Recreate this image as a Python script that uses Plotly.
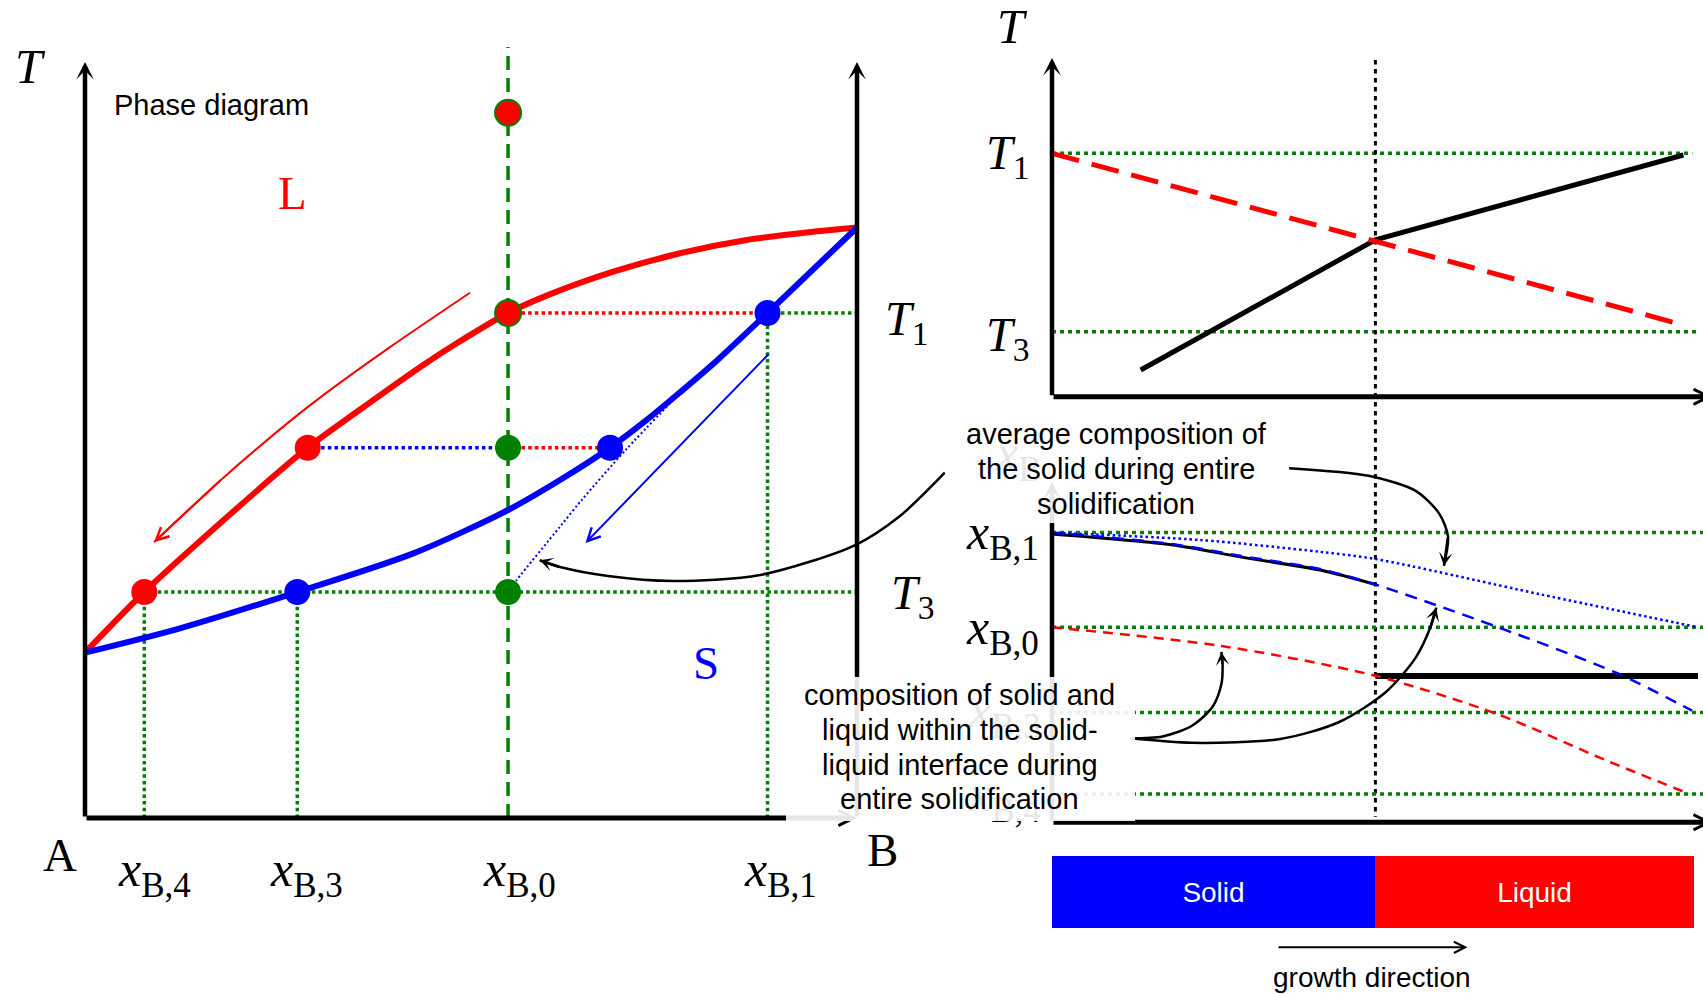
import plotly.graph_objects as go

SERIF = "Liberation Serif"
SANS = "Liberation Sans"
RED, BLUE, GREEN, BLACK = "#ff0000", "#0000ff", "#008000", "#000000"

# ======================= DATA =======================
# ---- Left: phase diagram (x = fraction of B, A = 0 ... B = 1; T = temperature, arbitrary units) ----
liquidus_x = [0.0, 0.0768, 0.1662, 0.2885, 0.3519, 0.4382, 0.4815, 0.548, 0.598, 0.6843, 0.7707, 0.8571, 0.9434, 1.0]
liquidus_T = [0.2187, 0.2989, 0.3820, 0.4898, 0.5370, 0.5992, 0.6279, 0.668, 0.6910, 0.7226, 0.7470, 0.7646, 0.7755, 0.7811]
solidus_x = [0.0, 0.1231, 0.275, 0.4253, 0.548, 0.6153, 0.6801, 0.7276, 0.7707, 0.8139, 0.8841, 1.0]
solidus_T = [0.2187, 0.2509, 0.2989, 0.3500, 0.4074, 0.4471, 0.4898, 0.5265, 0.5630, 0.6008, 0.668, 0.7811]

T0, T1, T2, T3 = 0.9329, 0.668, 0.4898, 0.2989          # temperature levels
xB4, xB3, xB0, xB1 = 0.0768, 0.275, 0.548, 0.8841        # compositions
xL_T2, xS_T2 = 0.2885, 0.6801                            # liquid / solid composition at T2
T_axis_top = 1.0
xB0_line_top = 1.0198

avg_solid_x = [0.548, 0.5592, 0.6153, 0.6434, 0.7004, 0.762]
avg_solid_T = [0.2989, 0.3148, 0.3853, 0.4206, 0.4868, 0.5529]
liq_path_x = [0.4987, 0.3951, 0.3087, 0.2655, 0.1775, 0.0894]
liq_path_T = [0.6948, 0.6229, 0.5594, 0.5250, 0.4485, 0.3649]
sol_path_x = [0.8873, 0.6483]
sol_path_T = [0.6155, 0.3638]
callout_avg_x = [1.1137, 1.0557, 0.9978, 0.8744, 0.7617, 0.6775, 0.6153, 0.5889]
callout_avg_T = [0.4567, 0.3995, 0.3611, 0.3214, 0.3135, 0.3201, 0.332, 0.3409]

# ---- Top right: temperature vs position (solid/liquid interface at position 1) ----
interface_pos = 1.0
pos_end = 1.98
T_axis2_bottom, T_axis2_top = 0.1644, 0.8652
T_liq_pos = [0.0, 1.9524]
T_liq_val = [0.668, 0.3127]
T_act_pos = [0.2743, 1.0, 1.9524]
T_act_val = [0.2196, 0.489, 0.6645]

# ---- Bottom right: composition vs position ----
c_B1, c_B0, c_B3, c_B4 = 0.8513, 0.573, 0.3227, 0.0832
c_axis_top = 1.0
solid_avg_pos = [0.0, 0.3751, 0.5813, 0.8287, 1.0]
solid_avg_c = [0.8472, 0.8148, 0.7800, 0.7413, 0.6988]
solid_int_pos = [0.0, 0.3751, 0.5813, 0.8287, 1.0, 1.3797, 1.7439, 1.979]
solid_int_c = [0.8513, 0.8172, 0.7830, 0.7443, 0.6988, 0.573, 0.4396, 0.3282]
solid_tot_pos = [0.0, 0.4576, 0.8256, 1.0, 1.5058, 1.9975]
solid_tot_c = [0.8513, 0.8296, 0.7952, 0.7737, 0.6708, 0.573]
liquid_int_pos = [0.0, 0.5238, 1.0, 1.3797, 1.7094, 1.9709]
liquid_int_c = [0.573, 0.5181, 0.4305, 0.3171, 0.1837, 0.0832]
liquid_bulk_pos = [1.0, 1.9975]
liquid_bulk_c = [0.43, 0.43]

callout_top_pos = [0.7332, 0.979, 1.1246, 1.1973, 1.2245, 1.2118]
callout_top_c = [1.0406, 1.0182, 0.9739, 0.9071, 0.8401, 0.7535]
callout_a_pos = [0.2418, 0.342, 0.4329, 0.4966, 0.5238, 0.5275, 0.5238]
callout_a_c = [0.2468, 0.2524, 0.2836, 0.3394, 0.4061, 0.4617, 0.5007]
callout_b_pos = [0.2418, 0.4329, 0.7059, 0.8881, 1.0334, 1.1246, 1.1701, 1.1883]
callout_b_c = [0.2468, 0.2336, 0.2448, 0.2947, 0.3838, 0.484, 0.573, 0.6309]

region_names = ["Solid", "Liquid"]
region_start = [0.0, 1.0]
region_len = [1.0, 0.9852]
region_colors = [BLUE, RED]
region_c = -0.205
region_h = 0.2095
growth_pos = [0.6957, 1.2848]
growth_c = -0.3673

# ======================= FIGURE =======================
fig = go.Figure()


def line(x, y, color, width, dash="solid", xa="x", ya="y", shape="linear"):
    ln = dict(color=color, width=width, dash=dash, shape=shape)
    if shape == "spline":
        ln["smoothing"] = 0.8
    fig.add_trace(go.Scatter(x=x, y=y, mode="lines", xaxis=xa, yaxis=ya, hoverinfo="skip", line=ln))


DOT = "3.5px,3.2px"
DOT_R = "4px,4px"

# ---- left panel ----
line([xB0, xB0], [0, xB0_line_top], GREEN, 3.5, "14px,8px")
line([xB4, xB4, None, xB3, xB3, None, xB1, xB1], [0, T3, None, 0, T3, None, 0, T1], GREEN, 3.5, DOT)
line([xB4, 1.0, None, xB1, 1.0], [T3, T3, None, T1, T1], GREEN, 3.5, DOT)
line([xB0, xB1, None, xB0, xS_T2], [T1, T1, None, T2, T2], RED, 3.5, DOT)
line([xL_T2, xB0], [T2, T2], BLUE, 3.5, DOT)
line(liquidus_x, liquidus_T, RED, 6, shape="spline")
line(solidus_x, solidus_T, BLUE, 6, shape="spline")
line(liq_path_x, liq_path_T, RED, 2, shape="spline")
line(avg_solid_x, avg_solid_T, BLUE, 2, "2px,2.5px", shape="spline")
line(callout_avg_x, callout_avg_T, BLACK, 2.5, shape="spline")


def dots(x, y, fill, edge=None):
    fig.add_trace(go.Scatter(x=x, y=y, mode="markers", hoverinfo="skip",
                             marker=dict(size=26, color=fill,
                                         line=dict(color=edge or fill, width=2 if edge else 0))))


dots([xB0, xB0], [T0, T1], RED, GREEN)
dots([xL_T2, xB4], [T2, T3], RED)
dots([xB0, xB0], [T2, T3], GREEN)
dots([xB1, xS_T2, xB3], [T1, T2, T3], BLUE)

# ---- top right panel ----
line([0, pos_end, None, 0, pos_end + 0.015], [T1, T1, None, T3, T3], GREEN, 3.5, DOT_R, "x2", "y2")
line([interface_pos, interface_pos], [0.8611, -0.7047], BLACK, 3, "4.5px,4.5px", "x2", "y2")
line(T_act_pos, T_act_val, BLACK, 5, xa="x2", ya="y2")
line(T_liq_pos, T_liq_val, RED, 5, "28px,13px", "x2", "y2")

# ---- bottom right panel ----
gl_x, gl_y = [], []
for c in (c_B1, c_B0, c_B3, c_B4):
    gl_x += [0, 2.02, None]
    gl_y += [c, c, None]
line(gl_x, gl_y, GREEN, 3.5, DOT_R, "x2", "y3")
line(liquid_bulk_pos, liquid_bulk_c, BLACK, 6, xa="x2", ya="y3")
line(solid_avg_pos, solid_avg_c, BLACK, 3, xa="x2", ya="y3", shape="spline")
line(solid_int_pos, solid_int_c, BLUE, 2.5, "12px,8px", "x2", "y3", "spline")
line(solid_tot_pos, solid_tot_c, BLUE, 2.5, "2.5px,3px", "x2", "y3", "spline")
line(liquid_int_pos, liquid_int_c, RED, 2.5, "10px,7px", "x2", "y3", "spline")
line(callout_top_pos, callout_top_c, BLACK, 2.5, xa="x2", ya="y3", shape="spline")
line(callout_a_pos, callout_a_c, BLACK, 2.5, xa="x2", ya="y3", shape="spline")
line(callout_b_pos, callout_b_c, BLACK, 2.5, xa="x2", ya="y3", shape="spline")

fig.add_trace(go.Bar(y=[region_c, region_c], x=region_len, base=region_start, orientation="h",
                     width=region_h, xaxis="x2", yaxis="y3", hoverinfo="skip",
                     marker=dict(color=region_colors, line=dict(width=0)),
                     text=region_names, textposition="inside", insidetextanchor="middle",
                     textfont=dict(family=SANS, size=28, color="white"), constraintext="none"))

# ======================= ANNOTATIONS =======================
ann = []


def arrow(xr, yr, x0, y0, x1, y1, color=BLACK, width=2, head=3, size=1.0):
    ann.append(dict(xref=xr, yref=yr, axref=xr, ayref=yr, x=x1, y=y1, ax=x0, ay=y0, text="",
                    showarrow=True, arrowcolor=color, arrowwidth=width, arrowhead=head,
                    arrowsize=size, standoff=0, startstandoff=0))


def label(xr, yr, x, y, text, size=48, color=BLACK, family=SERIF, xanchor="center"):
    ann.append(dict(xref=xr, yref=yr, x=x, y=y, text=text, showarrow=False, xanchor=xanchor,
                    yanchor="middle", font=dict(family=family, size=size, color=color)))


# axes (drawn as arrows)
arrow("x", "y", 0, 0, 0, T_axis_top, width=4.5, head=3, size=0.65)
arrow("x", "y", 1.0, 0, 1.0, T_axis_top, width=4.5, head=3, size=0.65)
arrow("x", "y", 0, 0, 1.0, 0, width=5, head=5, size=0.6)
arrow("x2", "y2", 0, T_axis2_bottom, 0, T_axis2_top, width=4.5, head=3, size=0.65)
arrow("x2", "y2", 0, T_axis2_bottom, 2.041, T_axis2_bottom, width=5, head=5, size=0.6)
arrow("x2", "y3", 0, 0, 0, c_axis_top, width=4.5, head=3, size=0.65)
arrow("x2", "y3", 0, 0, 2.041, 0, width=5, head=5, size=0.6)

# ghost labels hidden behind the text boxes
label("x2", "y3", -0.1051, 1.0743, "<i>x</i><sub>B</sub>", size=50)
label("x2", "y3", -0.1484, 0.3182, "<i>x</i><sub>B,3</sub>", size=50)
label("x2", "y3", -0.1484, 0.0723, "<i>x</i><sub>B,4</sub>", size=50)

# semi-transparent text boxes
ann.append(dict(xref="x2", yref="y3", x=0.1994, y=1.0353, text=" ", showarrow=False, width=343,
                height=106, bgcolor="rgba(255,255,255,0.9)", borderpad=0, borderwidth=0))
ann.append(dict(xref="x", yref="y", x=1.1341, y=0.0913, text=" ", showarrow=False, width=349,
                height=144, bgcolor="rgba(255,255,255,0.9)", borderpad=0, borderwidth=0))

for yy, t in zip([1.1402, 1.0393, 0.9345],
                 ["average composition of", "the solid during entire", "solidification"]):
    label("x2", "y3", 0.1994, yy, t, size=29, family=SANS)
for yy, t in zip([0.1623, 0.116, 0.0697, 0.0256],
                 ["composition of solid and", "liquid within the solid-",
                  "liquid interface during", "entire solidification"]):
    label("x", "y", 1.1334, yy, t, size=29, family=SANS)

# arrows in the diagram
arrow("x", "y", sol_path_x[0], sol_path_T[0], sol_path_x[1], sol_path_T[1], BLUE, 2, 5, 1.25)
arrow("x", "y", liq_path_x[-2], liq_path_T[-2], liq_path_x[-1], liq_path_T[-1], RED, 2, 5, 1.25)
arrow("x", "y", callout_avg_x[-2], callout_avg_T[-2], callout_avg_x[-1], callout_avg_T[-1], BLACK, 2.5, 3, 0.9)
arrow("x2", "y3", callout_top_pos[-2], callout_top_c[-2], callout_top_pos[-1], callout_top_c[-1], BLACK, 2.5, 3, 0.9)
arrow("x2", "y3", callout_a_pos[-2], callout_a_c[-2], callout_a_pos[-1], callout_a_c[-1], BLACK, 2.5, 3, 0.9)
arrow("x2", "y3", callout_b_pos[-2], callout_b_c[-2], callout_b_pos[-1], callout_b_c[-1], BLACK, 2.5, 3, 0.9)
arrow("x2", "y3", growth_pos[0], growth_c, growth_pos[1], growth_c, BLACK, 2, 5, 1.1)

# left panel labels
label("x", "y", -0.0712, 0.9934, "<i>T</i>", size=49)
label("x", "y", 0.035, 0.9431, "Phase diagram", size=29, family=SANS, xanchor="left")
label("x", "y", 0.2694, 0.8267, "L", color=RED, size=47)
label("x", "y", 0.8044, 0.205, "S", color=BLUE, size=47)
label("x", "y", -0.0328, -0.0485, "A", size=47)
label("x", "y", 1.0324, -0.0423, "B", size=47)
for xx, t in zip([0.0894, 0.2863, 0.5622, 0.9003], ["B,4", "B,3", "B,0", "B,1"]):
    label("x", "y", xx, -0.0725, "<i>x</i><sub>%s</sub>" % t, size=50)
label("x", "y", 1.0642, 0.6561, "<i>T</i><sub>1</sub>")
label("x", "y", 1.0724, 0.2937, "<i>T</i><sub>3</sub>")

# top-right labels
label("x2", "y2", -0.1218, 0.930, "<i>T</i>", size=49)
label("x2", "y2", -0.1367, 0.6624, "<i>T</i><sub>1</sub>")
label("x2", "y2", -0.1367, 0.2858, "<i>T</i><sub>3</sub>")

# bottom-right labels
label("x2", "y3", -0.1520, 0.8400, "<i>x</i><sub>B,1</sub>", size=50)
label("x2", "y3", -0.1520, 0.5636, "<i>x</i><sub>B,0</sub>", size=50)
label("x2", "y3", 0.988, -0.4555, "growth direction", size=28, family=SANS)

W, H = 1703, 994
ax_off = dict(visible=False, showgrid=False, zeroline=False, fixedrange=True)
fig.update_layout(
    width=W, height=H, margin=dict(l=0, r=0, t=0, b=0, pad=0),
    paper_bgcolor="white", plot_bgcolor="rgba(0,0,0,0)", showlegend=False,
    annotations=ann, bargap=0,
    xaxis=dict(domain=[0, 1], range=[(0 - 85) / 772, (W - 85) / 772], anchor="y", **ax_off),
    yaxis=dict(domain=[0, 1], range=[(818 - H) / 756, 818 / 756], anchor="x", **ax_off),
    xaxis2=dict(domain=[0, 1], range=[(0 - 1052) / 323.4, (W - 1052) / 323.4], anchor="y2", **ax_off),
    yaxis2=dict(domain=[0, 1], range=[0.668 - (H - 153.3) / 483.3, 0.668 + 153.3 / 483.3], anchor="x2", **ax_off),
    yaxis3=dict(domain=[0, 1], range=[-(H - 822.3) / 340.3, 822.3 / 340.3], anchor="x2", **ax_off),
)

fig.write_html("out.html", config={"displayModeBar": False},
               post_script="document.body.style.margin='0px';")
